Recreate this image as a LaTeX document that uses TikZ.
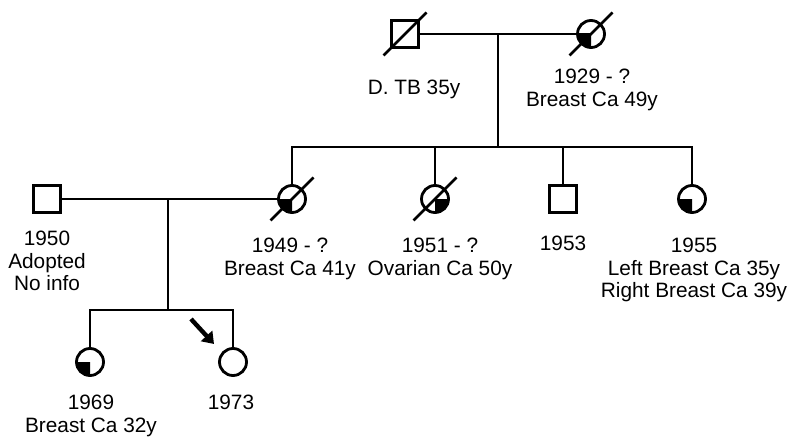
\documentclass[tikz,border=0pt]{standalone}
\usepackage{fontspec}
\setmainfont{Liberation Sans}
\usetikzlibrary{arrows.meta}

\tikzset{
  pline/.style={line width=2.8pt},
  male/.style={draw,line width=2.8pt,rectangle,minimum size=27pt,inner sep=0pt},
  female/.style={draw,line width=2.8pt,circle,minimum size=27pt,inner sep=0pt},
  lbl/.style={anchor=north,align=center,inner sep=0pt,font=\fontsize{20.8}{22.5}\selectfont}
}
\newcommand{\quadfill}[3]{%
  \begin{scope}
    \clip (#1.center) rectangle ++(#2,#3);
    \fill (#1.center) circle[radius=14pt];
  \end{scope}}
\newcommand{\deceased}[1]{%
  \draw[pline] ([shift={(-21.5,21.5)}]#1.center) -- ([shift={(21.5,-21.5)}]#1.center);}

\begin{document}
\begin{tikzpicture}[x=1pt,y=-1pt]
\useasboundingbox (0,0) rectangle (789,436);

\node[male] (gf) at (405,34) {};
\node[female] (gm) at (591,34) {};
\node[male] (fa) at (47,199) {};
\node[female] (mo) at (292,199) {};
\node[female] (a51) at (435,199) {};
\node[male] (u53) at (563,199) {};
\node[female] (a55) at (692,199) {};
\node[female] (d69) at (90,362) {};
\node[female] (d73) at (233,362) {};

\quadfill{gm}{-16}{16}
\quadfill{mo}{-16}{16}
\quadfill{a51}{16}{16}
\quadfill{a55}{-16}{16}
\quadfill{d69}{-16}{16}

\deceased{gf}
\deceased{gm}
\deceased{mo}
\deceased{a51}

\coordinate (j1) at (498,34);
\coordinate (s1) at (498,147);
\coordinate (j2) at (168,199);
\coordinate (s2) at (168,310);

\draw[pline] (gf.east) -- (gm.west);
\draw[pline] (j1) -- (s1);
\draw[pline] (mo.north) |- (a55.north |- s1) -- (a55.north);
\draw[pline] (a51.north) -- (a51.north |- s1);
\draw[pline] (u53.north) -- (u53.north |- s1);
\draw[pline] (fa.east) -- (mo.west);
\draw[pline] (j2) -- (s2);
\draw[pline] (d69.north) |- (d73.north |- s2) -- (d73.north);

\coordinate (pa) at (191,319);
\coordinate (pb) at (214,344);
\draw[line width=4.4pt,-{Triangle[length=11pt,width=15pt]}] (pa) -- (pb);

\node[lbl] (tgf) at (414,80) {D. TB 35y};
\node[lbl] (tgm) at (592,69) {1929 - ?\\Breast Ca 49y};
\node[lbl] (tfa) at (47,231) {1950\\Adopted\\No info};
\node[lbl] (tmo) at (290,238) {1949 - ?\\Breast Ca 41y};
\node[lbl] (ta51) at (440,238) {1951 - ?\\Ovarian Ca 50y};
\node[lbl] (tu53) at (563,236) {1953};
\node[lbl] (ta55) at (694,238) {1955\\Left Breast Ca 35y\\Right Breast Ca 39y};
\node[lbl] (td69) at (91,395) {1969\\Breast Ca 32y};
\node[lbl] (td73) at (231,395) {1973};
\end{tikzpicture}
\end{document}
